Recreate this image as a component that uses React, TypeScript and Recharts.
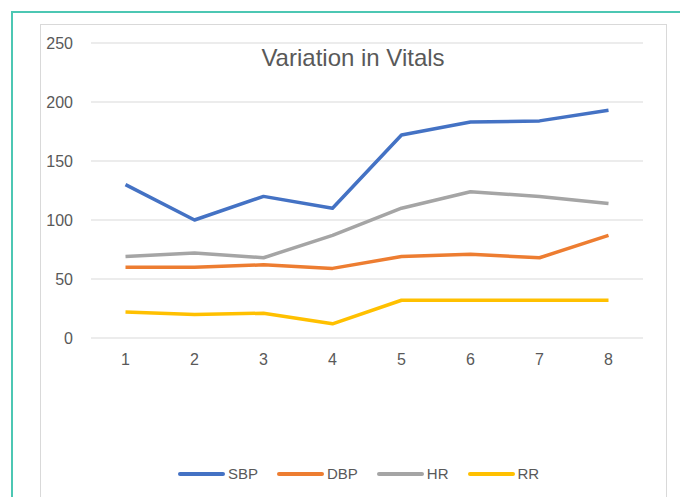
import { LineChart, Line, XAxis, YAxis, CartesianGrid } from 'recharts'

const visits = ['1', '2', '3', '4', '5', '6', '7', '8']
const sbp = [130, 100, 120, 110, 172, 183, 184, 193]
const dbp = [60, 60, 62, 59, 69, 71, 68, 87]
const hr = [69, 72, 68, 87, 110, 124, 120, 114]
const rr = [22, 20, 21, 12, 32, 32, 32, 32]
const yTicks = [0, 50, 100, 150, 200, 250]

const series = [
  { key: 'SBP', color: '#4472c4' },
  { key: 'DBP', color: '#ed7d31' },
  { key: 'HR', color: '#a5a5a5' },
  { key: 'RR', color: '#ffc000' },
]

const data = visits.map((v, i) => ({ visit: v, SBP: sbp[i], DBP: dbp[i], HR: hr[i], RR: rr[i] }))

const font = '"Liberation Sans", Arial, sans-serif'
const tickStyle = { fill: '#595959', fontSize: 16, fontFamily: font }

export default function App() {
  return (
    <div style={{ position: 'absolute', left: 0, top: 0, width: 680, height: 497, background: '#fff', overflow: 'hidden' }}>
      {/* outer teal frame */}
      <div style={{ position: 'absolute', left: 11, top: 11, width: 700, height: 520, border: '2px solid #4cc7b3' }} />
      {/* chart area border */}
      <div style={{ position: 'absolute', left: 40, top: 24, width: 625, height: 500, border: '1px solid #d9d9d9' }} />
      <div
        style={{
          position: 'absolute', left: 40, top: 46, width: 626, textAlign: 'center',
          fontFamily: font, fontSize: 24, color: '#595959', lineHeight: '24px',
        }}
      >
        Variation in Vitals
      </div>
      <div style={{ position: 'absolute', left: 0, top: 0 }}>
        <LineChart width={680} height={497} data={data} margin={{ top: 43, right: 37, bottom: 129, left: 41 }}>
          <CartesianGrid vertical={false} stroke="#d9d9d9" />
          <XAxis
            dataKey="visit"
            axisLine={false}
            tickLine={false}
            tick={tickStyle}
            tickMargin={10}
            height={30}
            padding={{ left: 34.5, right: 34.5 }}
          />
          <YAxis
            domain={[0, 250]}
            ticks={yTicks}
            axisLine={false}
            tickLine={false}
            tick={tickStyle}
            tickMargin={12}
            width={50}
          />
          {series.map((s) => (
            <Line
              key={s.key}
              dataKey={s.key}
              stroke={s.color}
              strokeWidth={3.5}
              dot={false}
              strokeLinejoin="round"
              isAnimationActive={false}
            />
          ))}
        </LineChart>
      </div>
      {/* legend */}
      <div style={{ position: 'absolute', left: 178, top: 465, display: 'flex', alignItems: 'center', fontFamily: font, fontSize: 15, color: '#595959' }}>
        {series.map((s) => (
          <div key={s.key} style={{ display: 'flex', alignItems: 'center', marginRight: 19 }}>
            <span style={{ display: 'inline-block', width: 47, height: 4, background: s.color, borderRadius: 2, marginRight: 3 }} />
            <span>{s.key}</span>
          </div>
        ))}
      </div>
    </div>
  )
}
